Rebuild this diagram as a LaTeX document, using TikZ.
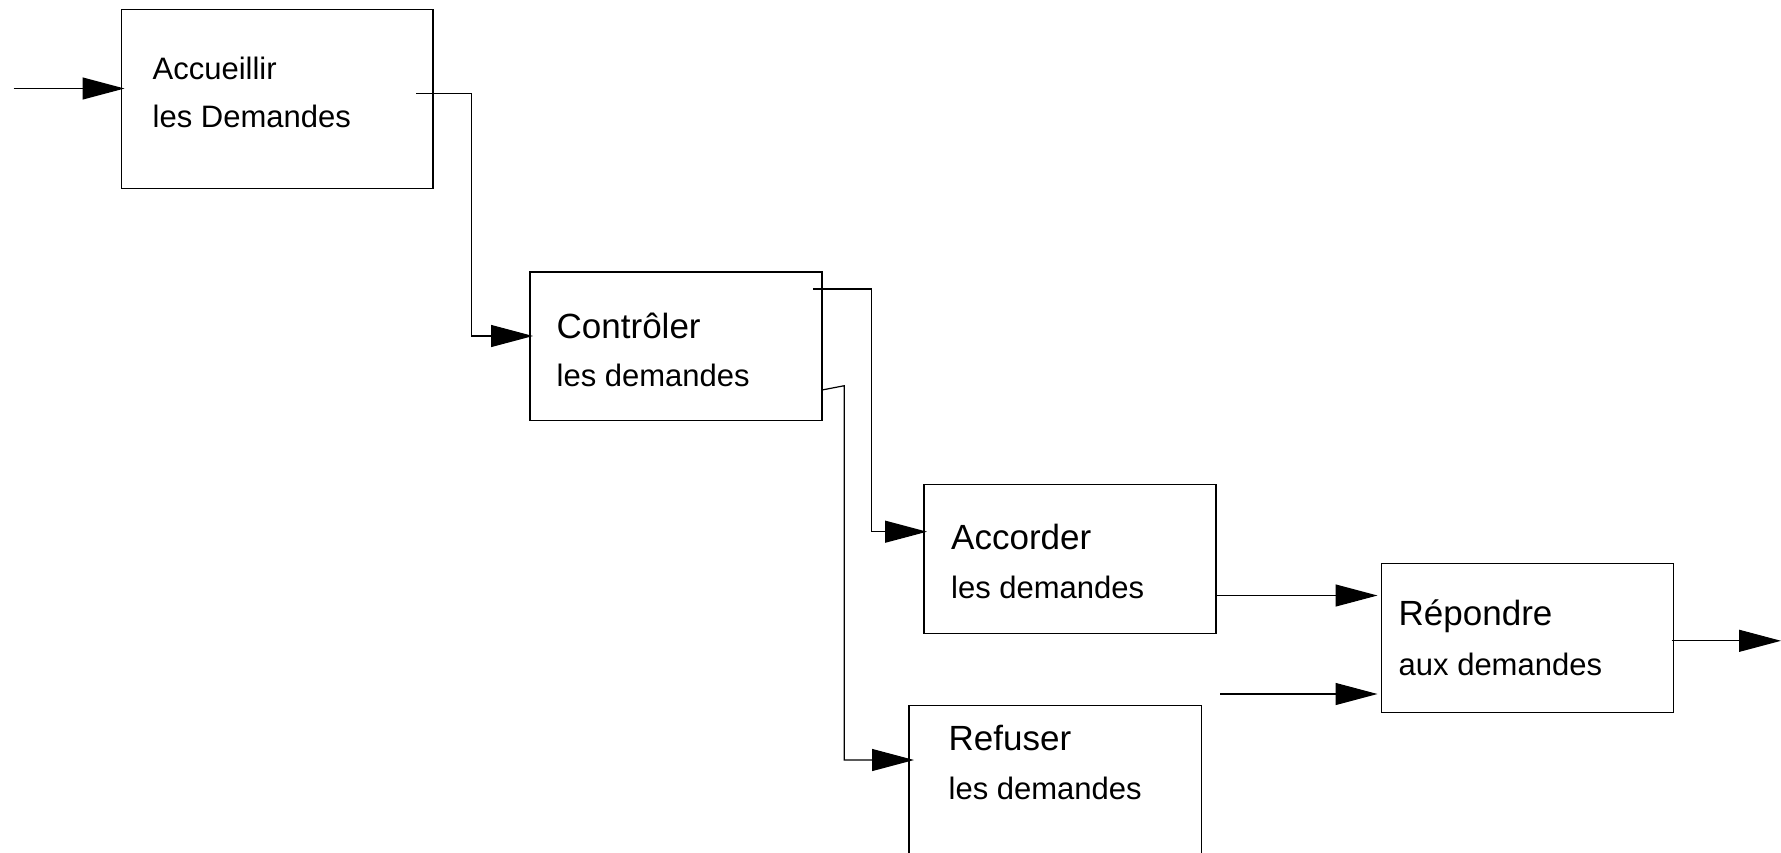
\documentclass[tikz,border=0pt]{standalone}
\usepackage{fontspec}
\setmainfont{Liberation Sans}
\usetikzlibrary{arrows.meta}
\tikzset{
  box/.style={draw=black, line width=1.2pt, rectangle, inner sep=0pt, outer sep=0pt, anchor=north west},
  lbl/.style={inner sep=0pt, anchor=base west, font=\fontsize{31pt}{37pt}\selectfont},
  title/.style={inner sep=0pt, anchor=base west, font=\fontsize{35pt}{42pt}\selectfont},
  conn/.style={draw=black, line width=1.2pt, -{Triangle[length=42pt,width=22pt]}},
  wire/.style={draw=black, line width=1.2pt}
}
\begin{document}
\begin{tikzpicture}[x=1pt,y=-1pt]
\clip (0,0) rectangle (1781,852);
\fill[white] (0,0) rectangle (1781,852);
% boxes
\node[box, minimum width=311.5pt, minimum height=179pt] (b1) at (121.5,9.3) {};
\node[box, minimum width=292pt, minimum height=148.5pt] (b2) at (530,272) {};
\node[box, minimum width=292pt, minimum height=148.5pt] (b3) at (924,484.7) {};
\node[box, minimum width=292.5pt, minimum height=170pt] (b4) at (909,705.7) {};
\node[box, minimum width=291.8pt, minimum height=149pt] (b5) at (1381.5,563.3) {};
% texts
\node[lbl] (t1a) at (152.5,79) {Accueillir};
\node[lbl] (t1b) at (152.5,127.7) {les Demandes};
\node[title] (t2a) at (556.5,338.3) {Contrôler};
\node[lbl] (t2b) at (556.5,386.7) {les demandes};
\node[title] (t3a) at (951,549) {Accorder};
\node[lbl] (t3b) at (951,598.3) {les demandes};
\node[title] (t4a) at (948.5,750.7) {Refuser};
\node[lbl] (t4b) at (948.5,799.3) {les demandes};
\node[title] (t5a) at (1398.5,625) {Répondre};
\node[lbl] (t5b) at (1398.5,675) {aux demandes};
% free ends
\coordinate (in0) at (13.6,88.5);
\coordinate (s1) at (416,93.3);
\coordinate (k1) at (471.7,336);
\coordinate (s2) at (813.3,289);
\coordinate (k2) at (871.7,531.7);
\coordinate (s3) at (b2.east |- 0,390);
\coordinate (k3) at (844.3,385.7);
\coordinate (k3b) at (844.3,760);
\coordinate (s4) at (b3.east |- 0,595.5);
\coordinate (s5) at (1220,694);
\coordinate (s6) at (1671.7,640.8);
\coordinate (out) at (1781,640.8);
% connectors
\draw[conn] (in0) -- ([xshift=3pt]in0 -| b1.west);
\draw[conn] (s1) -| (k1) -- ([xshift=3pt]k1 -| b2.west);
\draw[conn] (s2) -| (k2) -- ([xshift=3pt]k2 -| b3.west);
\draw[conn] (s3) -- (k3) -- (k3b) -- ([xshift=5pt]k3b -| b4.west);
\draw[conn] (s4) -- ([xshift=-4pt]s4 -| b5.west);
\draw[conn] (s5) -- ([xshift=-4pt]s5 -| b5.west);
\draw[conn] (s6) -- (out);
\end{tikzpicture}
\end{document}
